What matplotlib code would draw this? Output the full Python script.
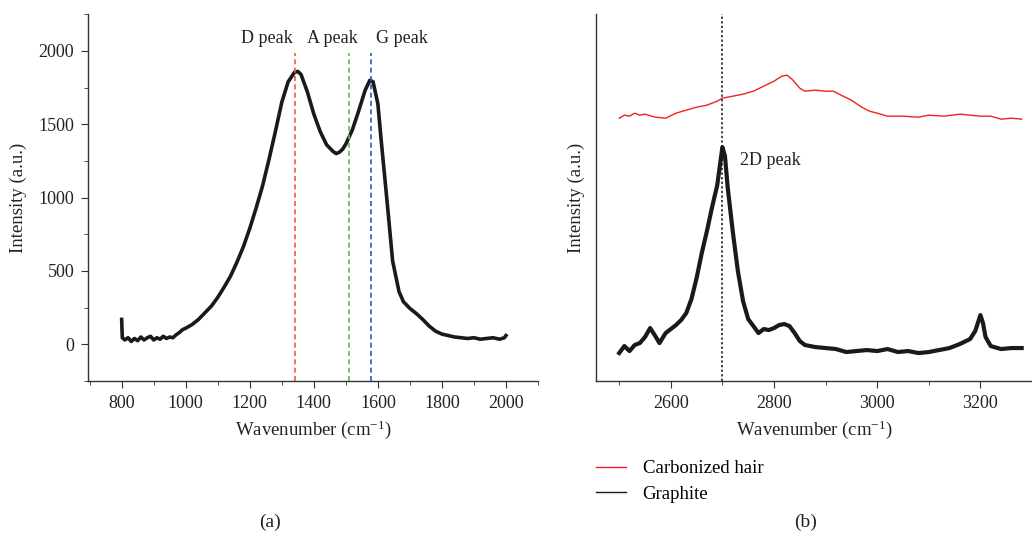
import matplotlib.pyplot as plt
from matplotlib.ticker import MultipleLocator
from matplotlib.lines import Line2D

plt.rcParams['font.family'] = ['Liberation Serif', 'DejaVu Serif']
plt.rcParams['mathtext.fontset'] = 'custom'
plt.rcParams['mathtext.rm'] = 'Liberation Serif'
plt.rcParams['mathtext.default'] = 'regular'

# panel (a): Raman spectrum, D/A/G region
wn_a = [800, 802, 810, 820, 830, 840, 850, 860, 870, 880, 890, 900, 910, 920, 930, 940,
        950, 960, 970, 980, 990, 1000, 1020, 1040, 1060, 1080, 1100, 1120, 1140, 1160,
        1180, 1200, 1220, 1240, 1260, 1280, 1300, 1320, 1340, 1350, 1360, 1380, 1400,
        1420, 1440, 1460, 1470, 1480, 1490, 1500, 1520, 1540, 1560, 1575, 1585, 1600,
        1610, 1625, 1635, 1646, 1666, 1680, 1700, 1720, 1740, 1760, 1780, 1800, 1820,
        1840, 1860, 1880, 1900, 1920, 1940, 1960, 1980, 1995, 2000]
int_a = [170, 45, 30, 45, 20, 40, 25, 50, 30, 45, 55, 30, 45, 35, 55, 40,
         50, 45, 65, 80, 100, 110, 135, 170, 215, 260, 320, 390, 465, 560,
         665, 790, 930, 1080, 1260, 1450, 1650, 1790, 1855, 1860, 1840, 1720, 1570,
         1450, 1360, 1315, 1300, 1310, 1330, 1365, 1460, 1590, 1730, 1800, 1790, 1640,
         1400, 1060, 830, 570, 360, 290, 245, 210, 170, 125, 90, 70, 60,
         50, 45, 40, 45, 35, 40, 45, 35, 45, 60]
peak_pos = [1340, 1510, 1580]
peak_names = ["D peak", "A peak", "G peak"]
peak_text_x = [1255, 1458, 1676]
peak_colors = ['#f05555', '#66b84a', '#3358c0']

# panel (b): 2D region
wn_g = [2500, 2510, 2520, 2530, 2540, 2550, 2560, 2570, 2578, 2590, 2600, 2610, 2620,
        2630, 2640, 2650, 2660, 2670, 2680, 2690, 2700, 2705, 2710, 2720, 2730, 2740,
        2750, 2760, 2770, 2780, 2790, 2800, 2810, 2820, 2830, 2840, 2850, 2860, 2880,
        2900, 2920, 2940, 2960, 2980, 3000, 3020, 3040, 3060, 3080, 3100, 3120, 3140,
        3160, 3180, 3190, 3200, 3205, 3210, 3220, 3240, 3260, 3280]
int_g = [28, 35, 30, 36, 38, 44, 53, 45, 38, 48, 52, 56, 61,
         68, 82, 103, 128, 150, 174, 196, 234, 225, 195, 150, 110, 80,
         62, 55, 48, 52, 51, 53, 56, 57, 55, 48, 40, 36, 34,
         33, 32, 29, 30, 31, 30, 32, 29, 30, 28, 29, 31, 33,
         37, 42, 50, 66, 58, 44, 35, 32, 33, 33]
wn_c = [2500, 2510, 2520, 2530, 2540, 2550, 2570, 2590, 2610, 2630, 2650, 2670, 2690,
        2700, 2720, 2740, 2760, 2780, 2800, 2815, 2825, 2835, 2850, 2860, 2880, 2900,
        2915, 2930, 2950, 2970, 2985, 3000, 3020, 3050, 3080, 3100, 3130, 3160, 3180,
        3200, 3220, 3240, 3260, 3280]
int_c = [263, 266, 265, 268, 266, 267, 264, 263, 268, 271, 274, 276, 280,
         283, 285, 287, 290, 295, 300, 305, 306, 302, 293, 290, 291, 290,
         290, 286, 281, 274, 270, 268, 265, 265, 264, 266, 265, 267, 266,
         265, 265, 262, 263, 262]

fig = plt.figure(figsize=(10.32, 5.41), dpi=100)
ax1 = fig.add_axes([0.0853, 0.2957, 0.436, 0.678])
ax2 = fig.add_axes([0.5775, 0.2957, 0.4225, 0.678])

spine_col = '#333333'
txt_col = '#222222'
for ax in (ax1, ax2):
    for s in ['top', 'right']:
        ax.spines[s].set_visible(False)
    for s in ['left', 'bottom']:
        ax.spines[s].set_color(spine_col)
        ax.spines[s].set_linewidth(1.0)
    ax.tick_params(which='major', direction='out', length=5, color=spine_col,
                   labelsize=13, labelcolor=txt_col, pad=5)
    ax.tick_params(which='minor', direction='out', length=3, color=spine_col)

ax1.plot(wn_a, int_a, color='#1a1a1a', lw=2.6)
for pos, name, tx, col in zip(peak_pos, peak_names, peak_text_x, peak_colors):
    ax1.plot([pos, pos], [-250, 1985], color=col, lw=1.2, ls=(0, (3, 2)))
    ax1.text(tx, 2030, name, ha='center', va='bottom', fontsize=13, color=txt_col)
ax1.set_xlim(695, 2100)
ax1.set_ylim(-250, 2250)
ax1.xaxis.set_major_locator(MultipleLocator(200))
ax1.xaxis.set_minor_locator(MultipleLocator(100))
ax1.yaxis.set_major_locator(MultipleLocator(500))
ax1.yaxis.set_minor_locator(MultipleLocator(250))
ax1.set_xlabel("Wavenumber (cm$^{-1}$)", fontsize=13.5, color=txt_col, labelpad=5)
ax1.set_ylabel("Intensity (a.u.)", fontsize=13.5, color=txt_col, labelpad=8)

ax2.plot(wn_c, int_c, color='#ee2222', lw=1.0)
ax2.plot(wn_g, int_g, color='#1a1a1a', lw=3.0)
ax2.plot([2700, 2700], [0, 367], color='#111111', lw=1.1, ls=(0, (1.5, 1.5)))
ax2.text(2735, 221, "2D peak", fontsize=13, color=txt_col, va='center')
ax2.set_xlim(2455, 3300)
ax2.set_ylim(0, 367)
ax2.xaxis.set_major_locator(MultipleLocator(200))
ax2.xaxis.set_minor_locator(MultipleLocator(100))
ax2.set_yticks([])
ax2.set_xlabel("Wavenumber (cm$^{-1}$)", fontsize=13.5, color=txt_col, labelpad=5)
ax2.set_ylabel("Intensity (a.u.)", fontsize=13.5, color=txt_col, labelpad=8)

handles = [Line2D([], [], color='#ee2222', lw=1.0), Line2D([], [], color='#1a1a1a', lw=1.0)]
fig.legend(handles, ["Carbonized hair", "Graphite"], loc='upper left',
           bbox_to_anchor=(0.570, 0.163), frameon=False, fontsize=13.5,
           handlelength=1.6, handletextpad=0.9, labelspacing=0.45,
           borderaxespad=0.0)

fig.text(0.2616, 0.035, "(a)", ha='center', va='center', fontsize=14, color=txt_col)
fig.text(0.781, 0.035, "(b)", ha='center', va='center', fontsize=14, color=txt_col)

fig.savefig("out.png", dpi=100)
